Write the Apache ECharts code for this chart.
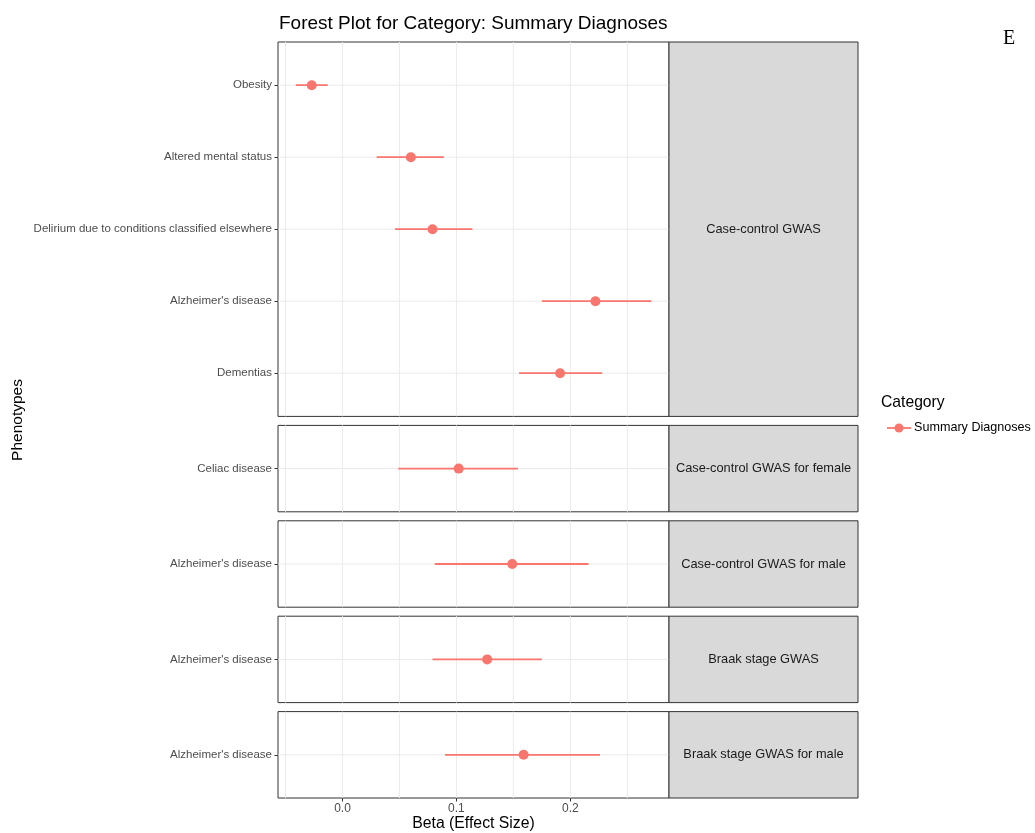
<!DOCTYPE html>
<html>
<head>
<meta charset="utf-8">
<script src="https://cdn.jsdelivr.net/npm/echarts@6/dist/echarts.min.js"></script>
<style>
  html, body { margin: 0; padding: 0; background: #fff; }
  #chart { width: 1035px; height: 833px; }
</style>
</head>
<body>
<div id="chart"></div>
<script>
// Facet strips (one panel per GWAS type), top to bottom
const panelNames = [
  'Case-control GWAS',
  'Case-control GWAS for female',
  'Case-control GWAS for male',
  'Braak stage GWAS',
  'Braak stage GWAS for male'
];
// One entry per estimate
const phenotypes = [
  'Obesity',
  'Altered mental status',
  'Delirium due to conditions classified elsewhere',
  "Alzheimer's disease",
  'Dementias',
  'Celiac disease',
  "Alzheimer's disease",
  "Alzheimer's disease",
  "Alzheimer's disease"
];
const panelIndex = [0, 0, 0, 0, 0, 1, 2, 3, 4];
const betaValues = [-0.027, 0.060, 0.079, 0.222, 0.191, 0.102, 0.149, 0.127, 0.159];
const ciLower   = [-0.041, 0.030, 0.046, 0.175, 0.155, 0.049, 0.081, 0.079, 0.090];
const ciUpper   = [-0.013, 0.089, 0.114, 0.271, 0.228, 0.154, 0.216, 0.175, 0.226];
// X axis breaks
const majorBreaks = [0.0, 0.1, 0.2];
const minorBreaks = [-0.05, 0.05, 0.15, 0.25];

const seriesName = 'Summary Diagnoses';
const legendTitle = 'Category';
const mainTitle = 'Forest Plot for Category: Summary Diagnoses';
const xTitle = 'Beta (Effect Size)';
const yTitle = 'Phenotypes';

const pointColor = '#F8766D';
const borderColor = '#333333';
const gridColor = '#EBEBEB';
const labelColor = '#4D4D4D';
const FONT = '"Liberation Sans", Arial, Helvetica, sans-serif';

// x range with a 5% expansion on both sides
const lo = Math.min(...ciLower), hi = Math.max(...ciUpper);
const pad = (hi - lo) * 0.05;
const xMin = lo - pad, xMax = hi + pad;

// Layout
const plotLeft = 278, plotRight = 669, stripRight = 858;
const rowUnit = 72;      // px per discrete row
const expand = 0.6;      // discrete expansion in rows
const panelGap = 9;
const firstTop = 42;

// rows per panel (in display order)
const panelRows = panelNames.map((_, p) => {
  const rows = [];
  panelIndex.forEach((pi, i) => { if (pi === p) rows.push(i); });
  return rows;
});

const grids = [], xAxes = [], yAxes = [], series = [], graphics = [];
let panelTop = firstTop;
panelRows.forEach((rows, p) => {
  const n = rows.length;
  const h = (n - 1 + 2 * expand) * rowUnit;
  const isLast = p === panelRows.length - 1;
  grids.push({
    left: plotLeft, top: panelTop, width: plotRight - plotLeft, height: h,
    show: true, borderColor: borderColor, borderWidth: 1, backgroundColor: '#fff',
    containLabel: false
  });
  xAxes.push({
    type: 'value', gridIndex: p, min: xMin, max: xMax, position: 'bottom',
    splitLine: { show: false },
    axisLine: { show: false, onZero: false },
    axisTick: isLast ? { show: true, customValues: majorBreaks, length: 3.5, lineStyle: { color: borderColor } } : { show: false },
    axisLabel: isLast ? {
      show: true, customValues: majorBreaks, color: labelColor, fontSize: 12, fontFamily: FONT, margin: 5,
      formatter: v => v.toFixed(1)
    } : { show: false }
  });
  const idx = rows.map((_, k) => k);
  yAxes.push({
    type: 'value', gridIndex: p, min: -expand, max: n - 1 + expand, inverse: true, position: 'left',
    splitLine: { show: false },
    axisLine: { show: false, onZero: false },
    axisTick: { show: true, customValues: idx, length: 3.5, lineStyle: { color: borderColor } },
    axisLabel: {
      show: true, customValues: idx, color: labelColor, fontSize: 11.5, fontFamily: FONT, margin: 6,
      formatter: v => phenotypes[rows[Math.round(v)]]
    }
  });
  // background grid lines
  const gridData = majorBreaks.map(v => ['v', v]).concat(minorBreaks.map(v => ['v', v]), idx.map(k => ['h', k]));
  series.push({
    type: 'custom', xAxisIndex: p, yAxisIndex: p, z: 1, silent: true,
    data: gridData.map(d => [d[0] === 'v' ? d[1] : 0, d[0] === 'h' ? d[1] : 0, d[0] === 'v' ? 1 : 0]),
    renderItem: (params, api) => {
      const cs = params.coordSys;
      if (api.value(2) === 1) {
        const x = api.coord([api.value(0), 0])[0];
        return { type: 'line', shape: { x1: x, y1: cs.y, x2: x, y2: cs.y + cs.height },
          style: { stroke: gridColor, lineWidth: 1 } };
      }
      const y = api.coord([0, api.value(1)])[1];
      return { type: 'line', shape: { x1: cs.x, y1: y, x2: cs.x + cs.width, y2: y },
        style: { stroke: gridColor, lineWidth: 1 } };
    }
  });
  // estimates with confidence intervals
  series.push({
    type: 'custom', name: seriesName, xAxisIndex: p, yAxisIndex: p, z: 5,
    data: rows.map((i, k) => [ciLower[i], ciUpper[i], betaValues[i], k]),
    renderItem: (params, api) => {
      const r = api.value(3);
      const a = api.coord([api.value(0), r]);
      const b = api.coord([api.value(1), r]);
      const c = api.coord([api.value(2), r]);
      return {
        type: 'group',
        children: [
          { type: 'line', shape: { x1: a[0], y1: a[1], x2: b[0], y2: b[1] },
            style: { stroke: pointColor, lineWidth: 1.8 } },
          { type: 'circle', shape: { cx: c[0], cy: c[1], r: 5 },
            style: { fill: pointColor } }
        ]
      };
    }
  });
  // facet strip on the right
  graphics.push({
    type: 'rect', shape: { x: plotRight, y: panelTop, width: stripRight - plotRight, height: h },
    style: { fill: '#D9D9D9', stroke: borderColor, lineWidth: 1 }, z: 10
  });
  graphics.push({
    type: 'text', x: (plotRight + stripRight) / 2, y: panelTop + h / 2, z: 11,
    style: { text: panelNames[p], fill: '#1A1A1A', font: '12.8px ' + FONT, align: 'center', verticalAlign: 'middle' }
  });
  panelTop += h + panelGap;
});
const lastBottom = panelTop - panelGap;

// titles
graphics.push({
  type: 'text', x: plotLeft + 1, y: 24,
  style: { text: mainTitle, fill: '#000', font: '19px ' + FONT, align: 'left', verticalAlign: 'middle' }
});
graphics.push({
  type: 'text', x: (plotLeft + plotRight) / 2, y: 824,
  style: { text: xTitle, fill: '#000', font: '15.8px ' + FONT, align: 'center', verticalAlign: 'middle' }
});
graphics.push({
  type: 'text', x: 18, y: (firstTop + lastBottom) / 2, rotation: Math.PI / 2,
  style: { text: yTitle, fill: '#000', font: '15.5px ' + FONT, align: 'center', verticalAlign: 'middle' }
});
// legend
graphics.push({
  type: 'text', x: 881, y: 403,
  style: { text: legendTitle, fill: '#000', font: '15.7px ' + FONT, align: 'left', verticalAlign: 'middle' }
});
graphics.push({
  type: 'line', shape: { x1: 887, y1: 428, x2: 911, y2: 428 },
  style: { stroke: pointColor, lineWidth: 1.8 }
});
graphics.push({
  type: 'circle', shape: { cx: 899, cy: 428, r: 4.5 }, style: { fill: pointColor }
});
graphics.push({
  type: 'text', x: 914, y: 428,
  style: { text: seriesName, fill: '#000', font: '12.6px ' + FONT, align: 'left', verticalAlign: 'middle' }
});
// panel letter
graphics.push({
  type: 'text', x: 1003, y: 39,
  style: { text: 'E', fill: '#000', font: '20px "Liberation Serif", "Times New Roman", serif', align: 'left', verticalAlign: 'middle' }
});

const chart = echarts.init(document.getElementById('chart'), null, { renderer: 'canvas' });
chart.setOption({
  animation: false,
  backgroundColor: '#fff',
  grid: grids,
  xAxis: xAxes,
  yAxis: yAxes,
  series: series,
  graphic: { elements: graphics }
});
</script>
</body>
</html>
